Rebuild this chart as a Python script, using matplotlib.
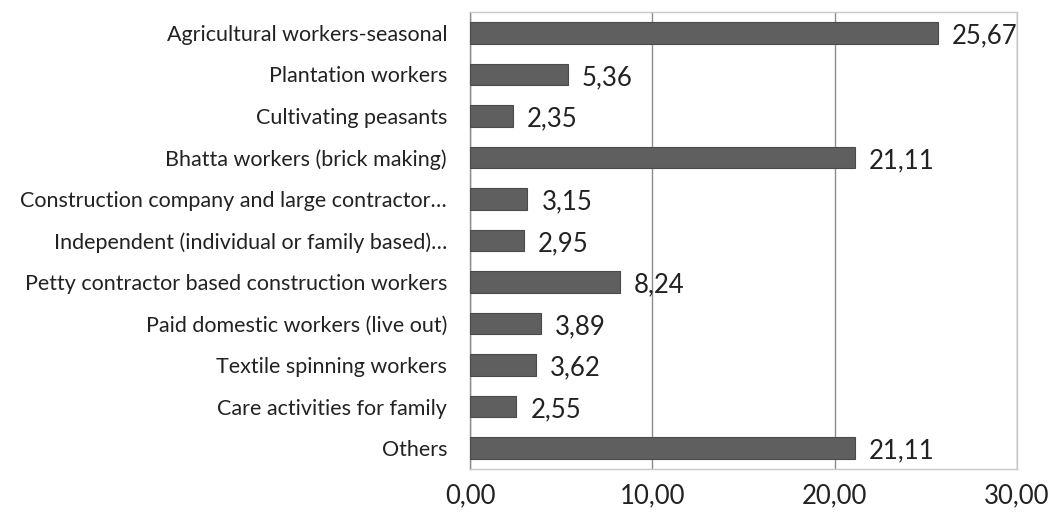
import matplotlib
matplotlib.use("Agg")
import matplotlib.pyplot as plt

categories = [
    "Agricultural workers-seasonal",
    "Plantation workers",
    "Cultivating peasants",
    "Bhatta workers (brick making)",
    "Construction company and large contractor…",
    "Independent (individual or family based)…",
    "Petty contractor based construction workers",
    "Paid domestic workers (live out)",
    "Textile spinning workers",
    "Care activities for family",
    "Others",
]
values = [25.67, 5.36, 2.35, 21.11, 3.15, 2.95, 8.24, 3.89, 3.62, 2.55, 21.11]
xticks = [0, 10, 20, 30]

def fmt(v):
    return f"{v:.2f}".replace(".", ",")

plt.rcParams['font.family'] = ['Lato', 'DejaVu Sans']

fig = plt.figure(figsize=(10.53, 5.18), dpi=100)
ax = fig.add_axes([470/1053, 1 - 469/518, (1017-470)/1053, (469-12)/518])

y = list(range(len(categories)))
ax.barh(y, values, height=0.52, color="#5f5f5f", edgecolor="#4a4a4a", linewidth=0.8, zorder=3)
ax.set_ylim(len(categories) - 0.5, -0.5)
ax.set_xlim(0, 30)
ax.set_yticks(y)
ax.set_yticklabels(categories, fontsize=15.5, color="#222222")
ax.set_xticks(xticks)
ax.set_xticklabels([fmt(t) for t in xticks], fontsize=18.5, color="#222222")
ax.tick_params(axis='both', length=0)
ax.tick_params(axis='x', pad=10)
ax.tick_params(axis='y', pad=16.5)
ax.grid(axis='x', color="#8c8c8c", linewidth=1.0, zorder=0)
for s in ["top", "right", "bottom"]:
    ax.spines[s].set_color("#c8c8c8")
    ax.spines[s].set_linewidth(1.0)
ax.spines["left"].set_color("#8c8c8c")
ax.spines["left"].set_linewidth(1.0)

for yi, v in zip(y, values):
    ax.annotate(fmt(v), (v, yi), xytext=(14, -3), textcoords="offset pixels",
                va="center", ha="left", fontsize=18.5, color="#222222", zorder=4)

fig.savefig("out.png", dpi=100)
